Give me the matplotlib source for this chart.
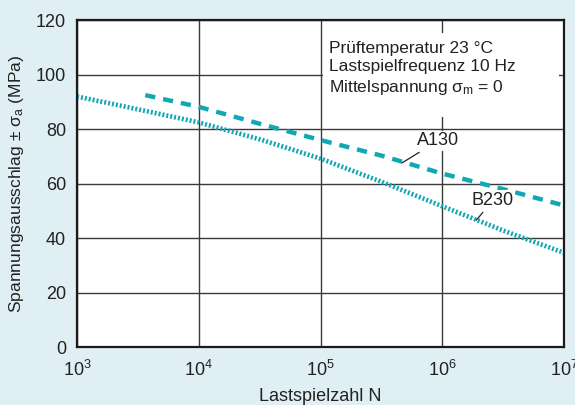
import matplotlib
matplotlib.use("Agg")
import matplotlib.pyplot as plt
from matplotlib.patches import Rectangle
import numpy as np

plt.rcParams["font.family"] = ["Liberation Sans", "DejaVu Sans"]
plt.rcParams["mathtext.fontset"] = "custom"
plt.rcParams["mathtext.rm"] = "Liberation Sans"
plt.rcParams["mathtext.it"] = "Liberation Sans:italic"
plt.rcParams["mathtext.sf"] = "Liberation Sans"

# load cycles (log10 N) and stress amplitude (MPa)
b230_logn = [3.0, 3.5, 4.0, 4.5, 5.0, 5.5, 6.0, 6.5, 7.0]
b230_sigma = [92.0, 87.3, 82.5, 76.3, 69.2, 60.7, 51.7, 42.8, 34.6]

a130_logn = [3.56, 4.0, 4.5, 5.0, 5.5, 6.0, 6.5, 7.0]
a130_sigma = [92.5, 88.2, 82.0, 76.0, 70.3, 63.7, 58.0, 52.0]

x_ticks = [1e3, 1e4, 1e5, 1e6, 1e7]
x_tick_labels = [r"$\mathregular{10^{3}}$", r"$\mathregular{10^{4}}$",
                 r"$\mathregular{10^{5}}$", r"$\mathregular{10^{6}}$",
                 r"$\mathregular{10^{7}}$"]
y_ticks = [0, 20, 40, 60, 80, 100, 120]

info_lines = ["Prüftemperatur 23 °C", "Lastspielfrequenz 10 Hz",
              r"Mittelspannung $\mathregular{\sigma_m}$ = 0"]

teal = "#12a8b3"
bg = "#e0eff3"
ink = "#222222"

fig = plt.figure(figsize=(5.75, 4.05), dpi=100, facecolor=bg)
ax = fig.add_axes([0.134, 0.143, 0.847, 0.807])
ax.set_facecolor("white")

ax.set_xscale("log")
ax.set_xlim(1e3, 1e7)
ax.set_ylim(0, 120)
ax.set_xticks(x_ticks)
ax.set_xticklabels(x_tick_labels)
ax.set_yticks(y_ticks)
ax.xaxis.set_minor_locator(matplotlib.ticker.NullLocator())
ax.tick_params(length=0, labelsize=13, colors=ink)
ax.tick_params(axis="x", pad=9)
ax.tick_params(axis="y", pad=8)

ax.grid(True, color="#3a3a3a", linewidth=1.0, zorder=1)
ax.set_axisbelow(True)
for s in ax.spines.values():
    s.set_linewidth(1.6)
    s.set_color("#1a1a1a")

# white panel behind the test conditions
ax.add_patch(Rectangle((0.505, 0.703), 0.485, 0.257, transform=ax.transAxes,
                       facecolor="white", edgecolor="none", zorder=1.5))
ax.text(0.518, 0.935, "\n".join(info_lines), transform=ax.transAxes,
        fontsize=12.5, va="top", ha="left", linespacing=1.25,
        color=ink, zorder=3)

ax.plot(10 ** np.array(a130_logn), a130_sigma, color=teal, linewidth=3.2,
        dashes=(2.3, 1.8), dash_capstyle="butt", zorder=2)
ax.plot(10 ** np.array(b230_logn), b230_sigma, color=teal, linewidth=3.4,
        dashes=(0.42, 0.42), dash_capstyle="butt", zorder=2)

ax.annotate("A130", xy=(10 ** 5.668, 67.6), xytext=(10 ** 5.79, 75.7),
            fontsize=13, color=ink, va="center", ha="left",
            bbox=dict(facecolor="white", edgecolor="none", pad=1),
            arrowprops=dict(arrowstyle="-", color=ink, lw=0.9,
                            shrinkA=2, shrinkB=0), zorder=3)
ax.annotate("B230", xy=(10 ** 6.279, 46.6), xytext=(10 ** 6.243, 53.9),
            fontsize=13, color=ink, va="center", ha="left",
            bbox=dict(facecolor="white", edgecolor="none", pad=1),
            arrowprops=dict(arrowstyle="-", color=ink, lw=0.9,
                            shrinkA=2, shrinkB=0), zorder=3)

ax.set_xlabel("Lastspielzahl N", fontsize=13, color=ink, labelpad=6)
ax.set_ylabel(r"Spannungsausschlag $\mathregular{\pm\ \sigma_a}$ (MPa)",
              fontsize=12.6, color=ink, labelpad=7)

fig.savefig("out.png", dpi=100, facecolor=bg)
